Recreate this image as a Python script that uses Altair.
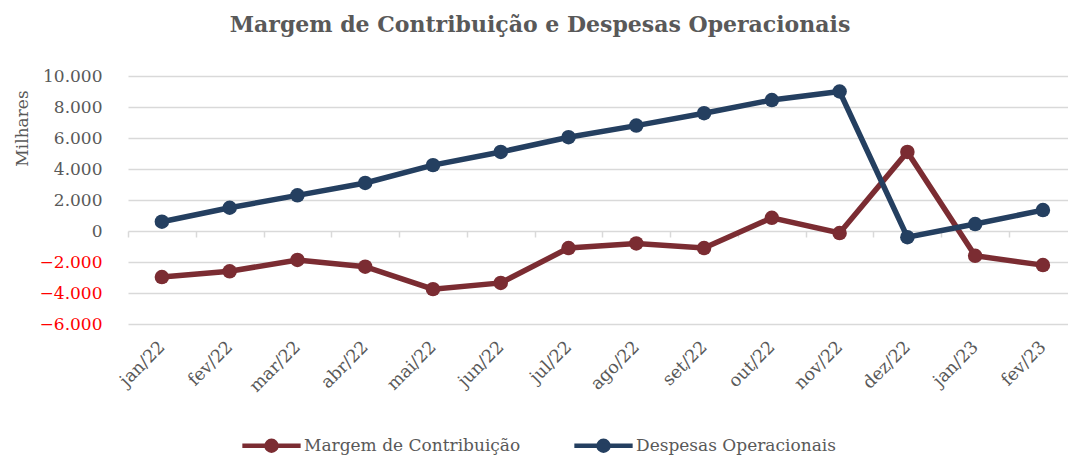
import altair as alt
import pandas as pd

months = ["jan/22", "fev/22", "mar/22", "abr/22", "mai/22", "jun/22", "jul/22",
          "ago/22", "set/22", "out/22", "nov/22", "dez/22", "jan/23", "fev/23"]
margem = [-2970, -2600, -1870, -2300, -3750, -3350, -1100, -800, -1100, 850, -130, 5100, -1600, -2200]
despesas = [600, 1500, 2300, 3100, 4250, 5100, 6050, 6800, 7600, 8450, 9000, -400, 450, 1350]
series = ["Margem de Contribuição", "Despesas Operacionais"]
colors = ["#7B2C32", "#243F60"]
y_ticks = [-6000, -4000, -2000, 0, 2000, 4000, 6000, 8000, 10000]

rows = []
for i, m in enumerate(months):
    rows.append({"idx": i, "mes": m, "serie": series[0], "valor": margem[i]})
    rows.append({"idx": i, "mes": m, "serie": series[1], "valor": despesas[i]})
df = pd.DataFrame(rows)

W, H = 940, 248
FONT = "DejaVu Serif"
GRAY = "#595959"
GRID = "#D9D9D9"

label_expr = "[" + ",".join("'%s'" % m for m in months) + "][datum.value]"
xscale = alt.Scale(domain=[-0.5, len(months) - 0.63], nice=False, zero=False)
yscale = alt.Scale(domain=[-6000, 10000], nice=False)
color = alt.Color(
    "serie:N",
    scale=alt.Scale(domain=series, range=colors),
    sort=series,
    legend=alt.Legend(
        title=None, orient="none", direction="horizontal",
        legendX=112, legendY=338,
        symbolType="M -1 0 L 1 0 M 0.17 0 A 0.17 0.17 0 1 1 -0.17 0 A 0.17 0.17 0 1 1 0.17 0",
        symbolSize=3400, symbolStrokeWidth=4.5, symbolOpacity=1,
        labelFont=FONT, labelFontSize=17, labelColor=GRAY, labelOffset=1,
        columnPadding=44, labelLimit=400,
    ),
)

y_axis = alt.Axis(
    values=y_ticks, tickCount=len(y_ticks), grid=True, gridColor=GRID, gridWidth=1.5,
    domain=False, ticks=False, labelPadding=26, labelOverlap=False,
    labelFont=FONT, labelFontSize=17,
    labelExpr="replace(format(datum.value, ','), /,/g, '.')",
    labelColor={"condition": {"test": "datum.value < 0", "value": "red"}, "value": GRAY},
    titleFont=FONT, titleFontSize=17, titleColor=GRAY, titleFontWeight="normal",
    titleAngle=-90, titleX=-101, titleY=52, titleAlign="center", titleBaseline="alphabetic",
)
y_enc = alt.Y("valor:Q", scale=yscale, title="Milhares", axis=y_axis)

lines = alt.Chart(df).mark_line(strokeWidth=5.5).encode(
    x=alt.X("idx:Q", scale=xscale, title=None,
            axis=alt.Axis(values=list(range(len(months))), labelExpr=label_expr,
                          orient="bottom", labelOverlap=False,
                          grid=False, domain=False, ticks=False,
                          labelAngle=-45, labelAlign="right", labelBaseline="middle",
                          labelPadding=20, labelFont=FONT, labelFontSize=17.5,
                          labelColor=GRAY)),
    y=y_enc,
    color=color,
)

pts = alt.Chart(df).mark_point(filled=True, size=210, opacity=1).encode(
    x=alt.X("idx:Q", scale=xscale, title=None,
            axis=alt.Axis(values=[i - 0.5 for i in range(len(months))],
                          orient="bottom", labels=False, grid=False, domain=False,
                          ticks=True, tickSize=6, tickWidth=1.5, tickColor=GRID,
                          offset=-(H * 6 / 16))),
    y=y_enc,
    color=color,
)

chart = alt.layer(lines, pts).resolve_axis(x="independent").properties(
    width=W, height=H,
    autosize=alt.AutoSizeParams(type="none"),
    padding={"left": 128, "top": 76, "right": 0, "bottom": 133},
    title=alt.TitleParams(
        "Margem de Contribuição e Despesas Operacionais",
        font=FONT, fontSize=22, fontWeight="bold", color=GRAY,
        anchor="middle", dx=-58, offset=30,
    ),
).configure_view(stroke=None)

chart.save("out.html", embed_options={"renderer": "svg", "actions": False})
